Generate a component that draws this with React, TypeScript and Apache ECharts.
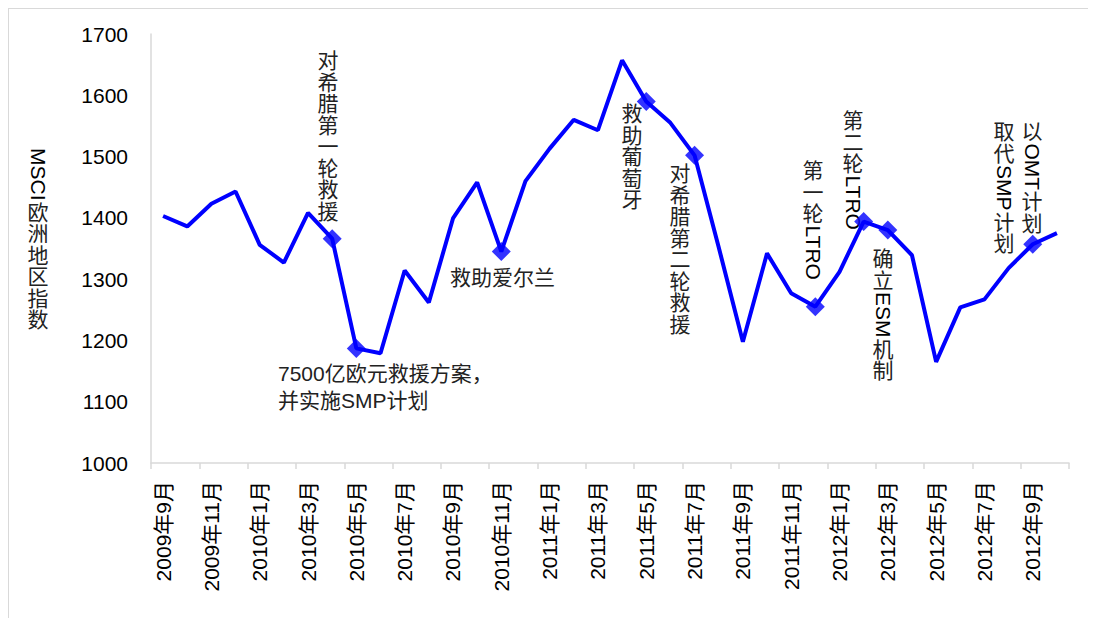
import React, { useEffect, useRef } from "react";
import * as echarts from "echarts";

const months: string[] = [
  "2009年9月", "2009年10月", "2009年11月", "2009年12月",
  "2010年1月", "2010年2月", "2010年3月", "2010年4月", "2010年5月", "2010年6月",
  "2010年7月", "2010年8月", "2010年9月", "2010年10月", "2010年11月", "2010年12月",
  "2011年1月", "2011年2月", "2011年3月", "2011年4月", "2011年5月", "2011年6月",
  "2011年7月", "2011年8月", "2011年9月", "2011年10月", "2011年11月", "2011年12月",
  "2012年1月", "2012年2月", "2012年3月", "2012年4月", "2012年5月", "2012年6月",
  "2012年7月", "2012年8月", "2012年9月", "2012年10月",
];

const msciEurope: number[] = [
  1403, 1386, 1423, 1443, 1356, 1327, 1408, 1366, 1187, 1179,
  1314, 1262, 1399, 1458, 1345, 1460, 1513, 1560, 1543, 1657,
  1590, 1555, 1502, 1352, 1198, 1342, 1277, 1255, 1312, 1394,
  1380, 1339, 1165, 1254, 1267, 1318, 1357, 1375,
];

// indices of the months that carry an event marker
const eventIndices: number[] = [7, 8, 14, 20, 22, 27, 29, 30, 36];

const yTicks = { min: 1000, max: 1700, interval: 100 };
const yAxisName = "MSCI欧洲地区指数";

const FONT_FAMILY = '"Liberation Sans", "Noto Sans CJK SC", sans-serif';
const FS = 21;

let measureCtx: CanvasRenderingContext2D | null = null;
function measure(text: string): number {
  if (!measureCtx) {
    const c = document.createElement("canvas");
    measureCtx = c.getContext("2d");
  }
  if (!measureCtx) return text.length * FS * 0.6;
  measureCtx.font = `${FS}px "Liberation Sans"`;
  return measureCtx.measureText(text).width;
}

// vertical text: CJK upright stacked, latin runs rotated clockwise
function vtext(cx: number, top: number, str: string): any {
  const tokens = str.match(/[A-Za-z0-9]+|[^A-Za-z0-9]/g) || [];
  const children: any[] = [];
  let cursor = top;
  tokens.forEach((tok) => {
    if (/^[A-Za-z0-9]+$/.test(tok)) {
      const w = measure(tok);
      children.push({
        type: "text",
        x: cx,
        y: cursor + 1,
        rotation: -Math.PI / 2,
        style: {
          text: tok,
          fontSize: FS,
          fontFamily: FONT_FAMILY,
          fill: "#000",
          align: "left",
          verticalAlign: "middle",
          textAlign: "left",
          textVerticalAlign: "middle",
        },
      });
      cursor += w + 2;
    } else {
      children.push({
        type: "text",
        x: cx,
        y: cursor,
        style: {
          text: tok,
          fontSize: FS,
          fontFamily: FONT_FAMILY,
          fill: "#222",
          align: "center",
          verticalAlign: "top",
          textAlign: "center",
          textVerticalAlign: "top",
        },
      });
      cursor += 21.5;
    }
  });
  return { type: "group", children };
}

function htext(x: number, y: number, str: string): any {
  return {
    type: "text",
    x,
    y,
    style: {
      text: str,
      fontSize: FS,
      fontFamily: FONT_FAMILY,
      fill: "#222",
      lineHeight: 27,
      align: "left",
      verticalAlign: "top",
      textAlign: "left",
      textVerticalAlign: "top",
    },
  };
}

export default function App() {
  const ref = useRef<HTMLDivElement>(null);
  useEffect(() => {
    if (!ref.current) return;
    const chart = echarts.init(ref.current, undefined, { renderer: "svg" });
    const markerData = msciEurope.map((v, i) =>
      eventIndices.includes(i) ? v : "-"
    );
    chart.setOption({
      animation: false,
      backgroundColor: "#fff",
      grid: { left: 143, right: 19, top: 26, bottom: 155, containLabel: false },
      xAxis: {
        type: "category",
        data: months,
        boundaryGap: true,
        axisLine: { show: true, lineStyle: { color: "#d9d9d9", width: 1.5 } },
        axisTick: {
          show: true,
          interval: 1,
          length: 6,
          lineStyle: { color: "#d9d9d9", width: 1.5 },
        },
        axisLabel: {
          interval: 1,
          rotate: 90,
          margin: 18,
          color: "#000",
          fontSize: FS,
          fontFamily: FONT_FAMILY,
        },
        splitLine: { show: false },
      },
      yAxis: {
        type: "value",
        min: yTicks.min,
        max: yTicks.max,
        interval: yTicks.interval,
        axisLine: { show: true, lineStyle: { color: "#d9d9d9", width: 1.5 } },
        axisTick: { show: false },
        axisLabel: {
          margin: 23,
          color: "#000",
          fontSize: FS,
          fontFamily: FONT_FAMILY,
          formatter: (v: number) => String(v),
        },
        splitLine: { show: false },
      },
      series: [
        {
          type: "line",
          data: msciEurope,
          symbol: "none",
          lineStyle: { color: "#0000ff", width: 4 },
          z: 2,
        },
        {
          type: "scatter",
          data: markerData,
          symbol: "diamond",
          symbolSize: 19,
          itemStyle: { color: "#0000ff" },
          z: 3,
        },
      ],
      graphic: [
        {
          type: "line",
          shape: { x1: 0, y1: 0.5, x2: 1080, y2: 0.5 },
          style: { stroke: "#d9d9d9", lineWidth: 1 },
        },
        {
          type: "line",
          shape: { x1: 0.5, y1: 0, x2: 0.5, y2: 610 },
          style: { stroke: "#d9d9d9", lineWidth: 1 },
        },
        vtext(30, 139, yAxisName),
        vtext(320, 42, "对希腊第一轮救援"),
        htext(270, 352, "7500亿欧元救援方案，\n并实施SMP计划"),
        htext(442, 256, "救助爱尔兰"),
        vtext(624, 95, "救助葡萄牙"),
        vtext(672, 155, "对希腊第二轮救援"),
        vtext(805, 152, "第一轮LTRO"),
        vtext(845, 102, "第二轮LTRO"),
        vtext(875, 240, "确立ESM机制"),
        vtext(1024, 113, "以OMT计划"),
        vtext(996, 113, "取代SMP计划"),
      ],
    });
    return () => chart.dispose();
  }, []);
  return <div ref={ref} style={{ width: 1080, height: 610 }} />;
}
